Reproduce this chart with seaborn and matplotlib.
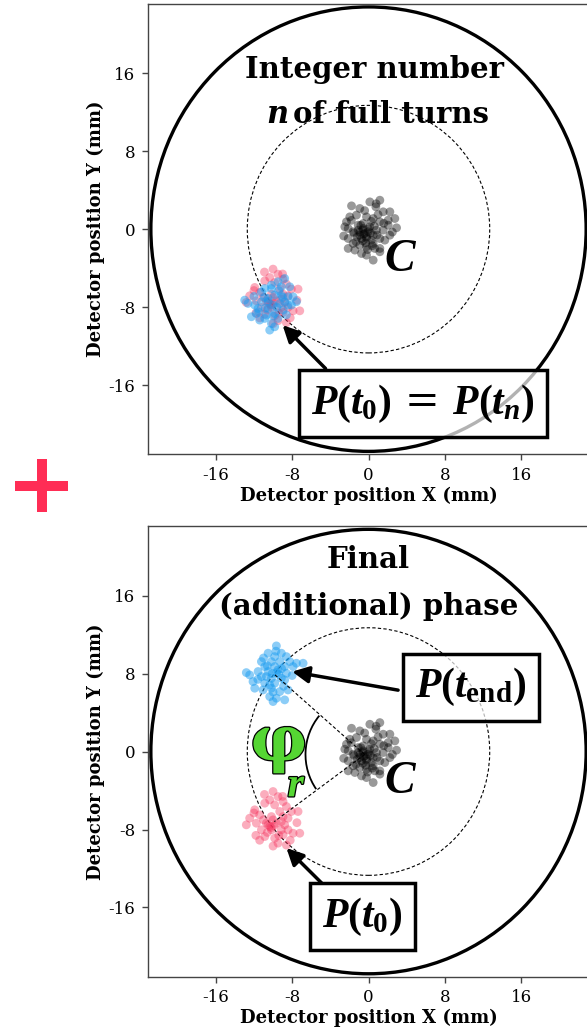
import numpy as np
import pandas as pd
import matplotlib
matplotlib.use("Agg")
import matplotlib.pyplot as plt
import matplotlib.patches as mpatches
import matplotlib.patheffects as pe
from matplotlib.lines import Line2D
import seaborn as sns

# ---------------- data (mm) ----------------
center_x = [1.19, 0.14, -1.78, -0.91, 0.77, 1.54, 2.24, 2.94, 2.76, 2.06, -2.31, -1.96, -1.26, -0.21,
            0.49, 1.19, -1.08, -0.56, 0.14, 0.84, 1.54, 2.24, -2.13, -1.61, -0.91, -0.21, 0.49, 1.19,
            -2.13, -1.61, -0.91, -0.21, 0.49, 1.19, -2.13, -1.43, -0.73, -0.21, 0.49, 1.19, -0.56,
            -0.03, -0.38, -0.73, -1.08, 0.31, 0.66, 2.06, 1.71, -2.48, -0.5, -0.2, -0.9, 0.2, -0.6,
            0.0, -1.2, 0.6, -0.3, -0.8, 0.3, -1.5, 0.9, -0.1, 1.6, -1.8, 0.4, -0.4, 1.0, -1.3, 2.5,
            -2.6, 0.8, -0.6]
center_y = [2.97, 2.80, 2.39, 2.12, 2.29, 1.78, 1.78, 0.14, 1.09, 0.92, 0.75, 1.26, 1.44, 1.26,
            1.09, 0.75, 0.41, 0.07, 0.24, -0.10, -0.10, -0.62, 0.07, -0.27, -0.62, -0.96, -0.62, -0.96,
            -0.96, -1.47, -1.64, -1.81, -1.47, -1.98, -1.98, -2.15, -2.50, -2.67, -3.18, -2.32, 0.58,
            -0.27, -0.44, -0.96, -0.10, -1.13, -1.98, 0.41, -1.13, 0.24, -0.5, -0.8, -0.3, -0.4, -1.2,
            0.0, -0.8, 0.3, -1.4, 0.4, 0.8, -0.4, -0.6, -2.1, 0.6, 0.9, -1.7, 1.9, 1.5, -1.3, -0.3,
            -0.7, 2.6, -0.1]

start_x = [-10.0, -9.48, -10.35, -8.95, -10.87, -9.83, -8.60, -11.92, -9.30, -8.08, -7.38, -11.40,
           -10.17, -8.95, -8.43, -12.45, -12.80, -11.75, -10.70, -9.65, -8.78, -11.22, -10.17, -9.13,
           -8.43, -7.90, -7.20, -10.87, -9.83, -8.95, -9.48, -10.52, -10.00, -10.35, -9.13, -10.2,
           -9.9, -10.6, -9.4, -11.0, -8.2, -10.0, -11.8, -9.0, -12.0, -7.5, -11.4, -10.9, -8.6]
start_y = [-4.10, -4.62, -4.96, -5.13, -5.30, -5.47, -5.64, -5.98, -6.15, -6.15, -6.15, -6.50,
           -6.67, -6.67, -6.84, -6.84, -7.52, -7.35, -7.35, -7.35, -7.52, -8.03, -8.03, -8.03,
           -8.03, -8.38, -8.38, -8.72, -8.89, -8.55, -9.40, -7.52, -7.01, -7.69, -7.18, -7.8,
           -7.6, -8.3, -8.6, -7.0, -9.1, -9.7, -8.6, -4.6, -6.3, -7.3, -9.1, -4.4, -9.6]

turns_x = [-12.97, -12.62, -11.92, -11.22, -10.87, -10.17, -9.48, -8.78, -8.25, -9.83, -9.13, -8.43,
           -10.52, -11.22, -10.00, -9.30, -8.43, -7.55, -11.75, -12.27, -11.40, -10.70, -9.83, -8.95,
           -8.08, -10.17, -9.83, -10.35, -10.87, -9.48, -8.78, -7.90, -11.57, -10.52, -10.17, -9.13,
           -10.5, -9.6, -10.9, -9.0, -11.5, -10.0, -8.6, -9.4, -10.8, -12.0]
turns_y = [-7.28, -7.62, -7.79, -6.43, -6.09, -5.74, -5.40, -5.06, -5.91, -6.77, -6.77, -6.94,
           -7.11, -7.45, -7.79, -7.62, -7.79, -7.45, -8.65, -8.99, -9.33, -8.82, -8.65, -8.31,
           -7.79, -9.68, -10.02, -10.36, -9.16, -9.16, -7.45, -6.94, -8.14, -8.14, -6.09, -5.91,
           -7.4, -8.0, -7.0, -7.0, -8.5, -8.9, -8.8, -6.3, -8.1, -6.9]

end_x = [-9.65, -10.52, -9.13, -9.83, -8.60, -11.22, -10.17, -9.30, -8.25, -7.55, -6.85, -10.87,
         -9.83, -8.78, -12.80, -11.57, -10.52, -9.65, -8.60, -11.22, -10.17, -9.13, -12.10, -10.87,
         -9.83, -8.78, -11.92, -11.05, -10.17, -9.30, -8.43, -10.35, -9.65, -8.78, -10.00, -7.90,
         -12.45, -10.70, -9.48, -10.35, -10.1, -9.4, -10.6, -9.1, -11.6, -10.0, -8.9, -11.0, -9.7,
         -8.0]
end_y = [10.84, 10.09, 10.09, 9.74, 9.74, 9.23, 9.23, 9.23, 9.23, 9.06, 9.06, 8.72,
         8.72, 8.72, 8.10, 8.21, 8.21, 8.10, 8.03, 7.69, 7.52, 7.52, 7.18, 7.01,
         7.01, 7.35, 6.50, 6.32, 6.50, 6.15, 6.32, 5.64, 5.47, 5.30, 5.13, 8.72,
         7.86, 7.69, 8.38, 6.84, 8.0, 7.9, 8.8, 8.5, 7.4, 6.1, 6.7, 9.6, 10.3, 7.8]

ticks = [-16, -8, 0, 8, 16]
tick_labels = ["-16", "-8", "0", "8", "16"]
outer_radius = 22.8
orbit_radius = 12.7
phase_vertex = (-0.4, -0.3)
phase_angles = (140, 215)
phase_arc_radius = 6.2

RED = "#f5325c"
BLUE = "#1a9cf0"
GREEN = "#55d633"
PLUS = "#ff2d55"

# ---------------- style ----------------
sns.set_theme(style="ticks")
plt.rcParams["font.family"] = ["DejaVu Serif"]
plt.rcParams["axes.unicode_minus"] = False
plt.rcParams["text.color"] = "black"
plt.rcParams["axes.labelcolor"] = "black"
plt.rcParams["xtick.color"] = "black"
plt.rcParams["ytick.color"] = "black"
plt.rcParams["mathtext.fontset"] = "custom"
plt.rcParams["mathtext.rm"] = "Liberation Serif:bold"
plt.rcParams["mathtext.it"] = "Liberation Serif:italic:bold"
plt.rcParams["mathtext.bf"] = "Liberation Serif:bold"

fig = plt.figure(figsize=(5.87, 10.35), dpi=100)
W, H = 587, 1035
ax1 = fig.add_axes([148 / W, 580.7 / H, 441 / W, 450.3 / H])
ax2 = fig.add_axes([148 / W, 58.3 / H, 441 / W, 450.3 / H])


def scatter(ax, xs, ys, color, alpha):
    sns.scatterplot(x=xs, y=ys, color=color, alpha=alpha, s=40, edgecolor="none",
                    linewidth=0, ax=ax, zorder=3)


def base(ax):
    ax.set_xlim(-23.1, 23.1)
    ax.set_ylim(-23.1, 23.1)
    ax.set_xticks(ticks)
    ax.set_xticklabels(tick_labels)
    ax.set_yticks(ticks)
    ax.set_yticklabels(tick_labels)
    ax.tick_params(labelsize=12, length=4, width=1, color="#444444", pad=5)
    for s in ax.spines.values():
        s.set_color("#444444")
        s.set_linewidth(1.0)
    ax.set_xlabel("Detector position X (mm)", fontsize=13, fontweight="bold", labelpad=2)
    ax.set_ylabel("Detector position Y (mm)", fontsize=13, fontweight="bold", labelpad=3)
    ax.add_patch(mpatches.Circle((0, 0), outer_radius, fill=False, lw=2.4, ec="black", zorder=2))
    ax.add_patch(mpatches.Circle((0, 0), orbit_radius, fill=False, lw=0.8, ec="black",
                                 ls=(0, (3, 2)), zorder=2))
    ax.text(3.4, -4.3, "$C$", fontsize=33, ha="center", va="baseline", zorder=5)


def box(ax, x, y, s, fs):
    ax.text(x, y, s, fontsize=fs, ha="center", va="center", zorder=6,
            bbox=dict(boxstyle="square,pad=0.3", fc=(1, 1, 1, 0.7), ec="black", lw=2.5))


def arrow(ax, tail, head):
    ax.annotate("", xy=head, xytext=tail, zorder=5,
                arrowprops=dict(arrowstyle="-|>", lw=2.5, color="black", mutation_scale=25,
                                shrinkA=0, shrinkB=0))


# ---- top panel ----
base(ax1)
scatter(ax1, center_x, center_y, "black", 0.4)
scatter(ax1, start_x, start_y, RED, 0.4)
scatter(ax1, turns_x, turns_y, BLUE, 0.5)
ax1.text(0.6, 15.5, "Integer number", fontsize=21, fontweight="bold", ha="center", va="baseline", zorder=5)
ax1.text(-8.4, 10.9, "n", fontsize=22, fontweight="bold", fontstyle="italic", ha="right",
         va="baseline", zorder=5)
ax1.text(-7.9, 10.9, "of full turns", fontsize=21, fontweight="bold", ha="left", va="baseline", zorder=5)
arrow(ax1, (-4.5, -14.3), (-9.0, -9.85))
box(ax1, 5.7, -17.9, "$P(t_0)$ = $P(t_n)$", 30)

# ---- bottom panel ----
base(ax2)
scatter(ax2, center_x, center_y, "black", 0.4)
scatter(ax2, start_x, start_y, RED, 0.4)
scatter(ax2, end_x, end_y, BLUE, 0.5)
ax2.text(0, 18.8, "Final", fontsize=21, fontweight="bold", ha="center", va="baseline", zorder=5)
ax2.text(0, 14.0, "(additional) phase", fontsize=21, fontweight="bold", ha="center", va="baseline", zorder=5)
vx, vy = phase_vertex
ax2.plot([vx, float(np.mean(end_x))], [vy, float(np.mean(end_y))], color="black", lw=0.8,
         ls=(0, (3, 2)), zorder=4)
ax2.plot([vx, float(np.mean(start_x))], [vy, float(np.mean(start_y))], color="black", lw=0.8,
         ls=(0, (3, 2)), zorder=4)
ax2.add_patch(mpatches.Arc((vx, vy), 2 * phase_arc_radius, 2 * phase_arc_radius,
                           theta1=phase_angles[0], theta2=phase_angles[1], lw=1.3,
                           color="black", zorder=4))
stroke = [pe.Stroke(linewidth=1.8, foreground="black"), pe.Normal()]
ax2.text(-9.4, 0.9, "φ", fontsize=45, fontweight="bold", color=GREEN,
         ha="center", va="center", zorder=6, path_effects=stroke)
ax2.text(-7.5, -3.4, "$r$", fontsize=30, color=GREEN, ha="center", va="center", zorder=6,
         path_effects=stroke)
arrow(ax2, (3.1, 6.3), (-8.0, 8.2))
box(ax2, 10.7, 6.6, r"$P(t_{\mathrm{end}})$", 30)
arrow(ax2, (-4.9, -13.5), (-8.6, -9.9))
box(ax2, -0.64, -16.95, "$P(t_0)$", 30)

# ---- plus sign between panels ----
cx, cy, half = 41.5 / W, 1 - 485.5 / H, 26.5
fig.add_artist(Line2D([cx - half / W, cx + half / W], [cy, cy], color=PLUS, lw=7.2,
                      solid_capstyle="butt", transform=fig.transFigure))
fig.add_artist(Line2D([cx, cx], [cy - half / H, cy + half / H], color=PLUS, lw=7.2,
                      solid_capstyle="butt", transform=fig.transFigure))

fig.savefig("out.png", dpi=100)
